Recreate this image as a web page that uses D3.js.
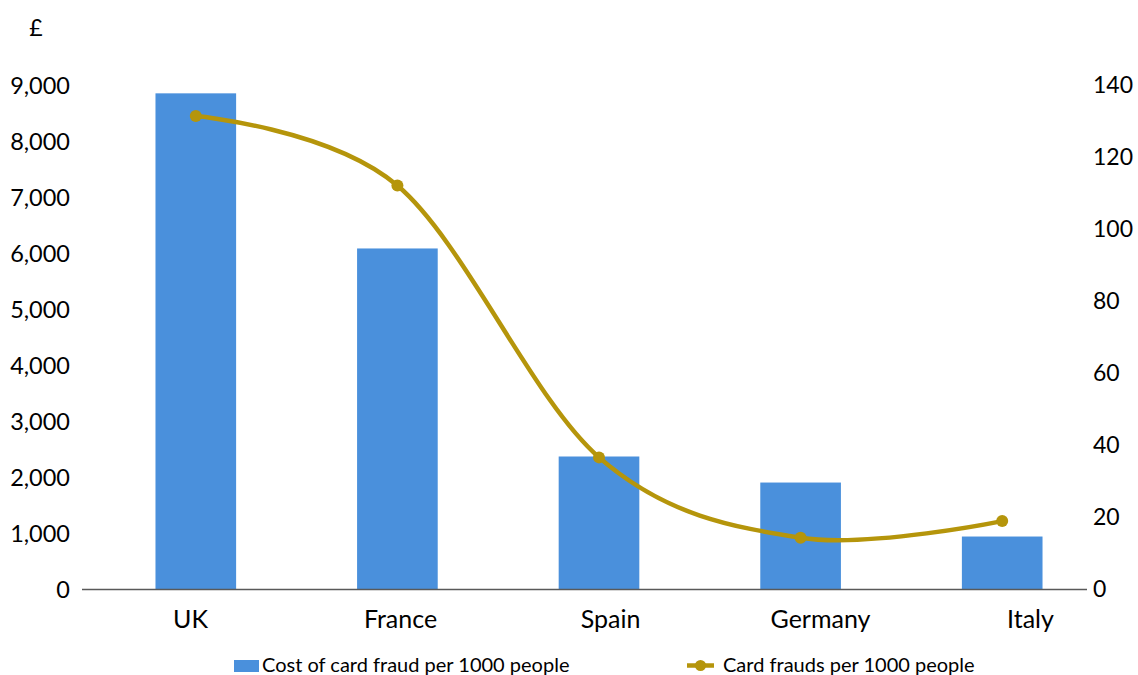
<!DOCTYPE html>
<html>
<head>
<meta charset="utf-8">
<script src="https://cdn.jsdelivr.net/npm/d3@7"></script>
<style>
  html, body { margin: 0; padding: 0; background: #fff; }
  svg text { font-family: Lato, "Open Sans", sans-serif; fill: #000; }
</style>
</head>
<body>
<svg id="chart" width="1138" height="675"></svg>
<script>
// Card fraud across five European countries
const countries = ["UK", "France", "Spain", "Germany", "Italy"];
const costPer1000 = [8860, 6090, 2375, 1910, 946];      // £ per 1000 people
const fraudsPer1000 = [131.5, 112.2, 36.7, 14.4, 19.0]; // frauds per 1000 people
const leftTicks = [0, 1000, 2000, 3000, 4000, 5000, 6000, 7000, 8000, 9000];
const rightTicks = [0, 20, 40, 60, 80, 100, 120, 140];
const legendLabels = ["Cost of card fraud per 1000 people", "Card frauds per 1000 people"];

const barColor = "#4A90DC";
const lineColor = "#B5950B";

const svg = d3.select("#chart");

const yLeft = d3.scaleLinear().domain([0, 9000]).range([589.5, 85.5]);
const yRight = d3.scaleLinear().domain([0, 140]).range([589.5, 85.5]);

// bars and markers share one band scale
const x = d3.scaleBand().domain(countries).range([95, 1103])
  .paddingInner(0.6).paddingOuter(0.3);
// category labels
const xLabel = d3.scalePoint().domain(countries).range([190, 1030]);

// bars
svg.append("g").selectAll("rect").data(countries).join("rect")
  .attr("x", d => x(d))
  .attr("width", x.bandwidth())
  .attr("y", (d, i) => yLeft(costPer1000[i]))
  .attr("height", (d, i) => yLeft(0) - yLeft(costPer1000[i]))
  .attr("fill", barColor);

// baseline
svg.append("line")
  .attr("x1", 82).attr("x2", 1087)
  .attr("y1", yLeft(0)).attr("y2", yLeft(0))
  .attr("stroke", "#595959").attr("stroke-width", 1.5);

// left axis labels
const leftAxis = d3.axisLeft(yLeft).tickValues(leftTicks)
  .tickFormat(d3.format(",")).tickSize(0).tickPadding(0);
const gl = svg.append("g").attr("transform", "translate(70,0)").call(leftAxis);
gl.select(".domain").remove();
gl.selectAll("text").attr("font-size", 23.5).attr("font-family", "Lato, sans-serif");

// right axis labels
const rightAxis = d3.axisRight(yRight).tickValues(rightTicks).tickSize(0).tickPadding(0);
const gr = svg.append("g").attr("transform", "translate(1093,0)").call(rightAxis);
gr.select(".domain").remove();
gr.selectAll("text").attr("font-size", 23).attr("font-family", "Lato, sans-serif");

// currency unit
svg.append("text").attr("x", 36).attr("y", 36)
  .attr("text-anchor", "middle").attr("font-size", 23).text("£");

// category axis
const bottomAxis = d3.axisBottom(xLabel).tickSize(0).tickPadding(0);
const gb = svg.append("g").attr("transform", "translate(0,628)").call(bottomAxis);
gb.select(".domain").remove();
gb.selectAll("text").attr("font-size", 25).attr("font-family", "Lato, sans-serif")
  .attr("dy", 0);

// smoothed fraud-count line
const cx = d => x(d) + x.bandwidth() / 2;
const line = d3.line()
  .x(d => cx(d))
  .y((d, i) => yRight(fraudsPer1000[i]))
  .curve(d3.curveCatmullRom.alpha(0));
svg.append("path").datum(countries)
  .attr("d", line)
  .attr("fill", "none")
  .attr("stroke", lineColor)
  .attr("stroke-width", 4.5)
  .attr("stroke-linecap", "round");
svg.append("g").selectAll("circle").data(countries).join("circle")
  .attr("cx", cx)
  .attr("cy", (d, i) => yRight(fraudsPer1000[i]))
  .attr("r", 6)
  .attr("fill", lineColor);

// legend
const lg = svg.append("g");
lg.append("rect").attr("x", 234).attr("y", 660).attr("width", 25).attr("height", 12)
  .attr("fill", barColor);
lg.append("text").attr("x", 262).attr("y", 672).attr("font-size", 20).text(legendLabels[0]);
lg.append("line").attr("x1", 687).attr("x2", 714).attr("y1", 665.5).attr("y2", 665.5)
  .attr("stroke", lineColor).attr("stroke-width", 4.5);
lg.append("circle").attr("cx", 700.5).attr("cy", 665.5).attr("r", 5.5).attr("fill", lineColor);
lg.append("text").attr("x", 723).attr("y", 672).attr("font-size", 20).text(legendLabels[1]);
</script>
</body>
</html>
